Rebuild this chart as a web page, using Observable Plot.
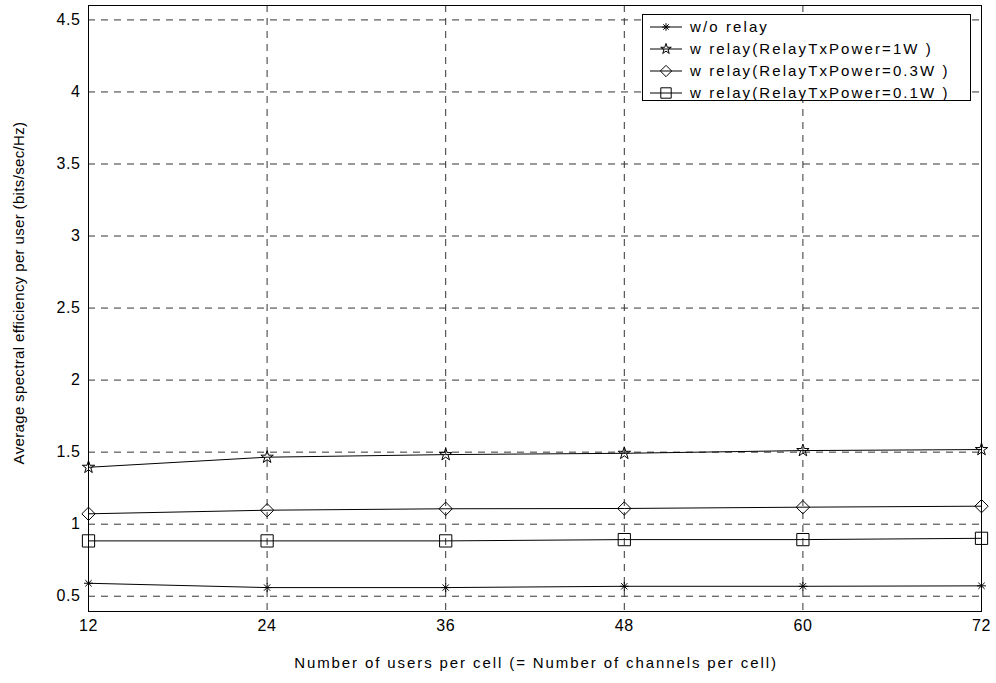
<!DOCTYPE html>
<html>
<head>
<meta charset="utf-8">
<script src="https://cdn.jsdelivr.net/npm/d3@7"></script>
<script src="https://cdn.jsdelivr.net/npm/@observablehq/plot@0.6"></script>
<style>
  html, body { margin: 0; padding: 0; background: white; }
  #chart { position: relative; width: 996px; height: 683px; }
</style>
</head>
<body>
<div id="chart"></div>
<script>
// ---- data ----
const usersPerCell = [12, 24, 36, 48, 60, 72];
const woRelay   = [0.590, 0.560, 0.560, 0.569, 0.569, 0.572];
const relay1W   = [1.395, 1.465, 1.483, 1.492, 1.511, 1.518];
const relay03W  = [1.072, 1.097, 1.107, 1.109, 1.118, 1.125];
const relay01W  = [0.884, 0.884, 0.884, 0.893, 0.893, 0.902];
const seriesNames = [
  "w/o relay",
  "w relay(RelayTxPower=1W )",
  "w relay(RelayTxPower=0.3W )",
  "w relay(RelayTxPower=0.1W )"
];
const yTicks = [0.5, 1, 1.5, 2, 2.5, 3, 3.5, 4, 4.5];
const xLabel = "Number of users per cell (= Number of channels per cell)";
const yLabel = "Average spectral efficiency per user (bits/sec/Hz)";

// MATLAB-like asterisk (plus + times)
const matlabAsterisk = {
  draw(ctx, size) {
    const r = Math.sqrt(size) * 0.6;
    const d = r * 0.7071;
    ctx.moveTo(-r, 0); ctx.lineTo(r, 0);
    ctx.moveTo(0, -r); ctx.lineTo(0, r);
    ctx.moveTo(-d, -d); ctx.lineTo(d, d);
    ctx.moveTo(-d, d); ctx.lineTo(d, -d);
  }
};
const symbols = [matlabAsterisk, "star", "diamond2", "square"];
const radii = [4.2, 3.9, 6.0, 6.9];
const allSeries = [woRelay, relay1W, relay03W, relay01W];

const rows = [];
allSeries.forEach((vals, i) => vals.forEach((v, j) => rows.push({series: seriesNames[i], idx: i, x: usersPerCell[j], y: v})));

const font = "'Liberation Sans', Arial, Helvetica, sans-serif";

const plot = Plot.plot({
  width: 996,
  height: 683,
  marginLeft: 88,
  marginRight: 15,
  marginTop: 5,
  marginBottom: 72,
  style: {fontFamily: font, fontSize: "16px", background: "white", color: "black", overflow: "visible"},
  x: {domain: [12, 72], label: null},
  y: {domain: [0.394, 4.6], label: null},
  marks: [
    Plot.gridX(usersPerCell, {stroke: "#333", strokeOpacity: 1, strokeWidth: 1, strokeDasharray: "7,6"}),
    Plot.gridY(yTicks, {stroke: "#333", strokeOpacity: 1, strokeWidth: 1, strokeDasharray: "7,6"}),
    Plot.frame({stroke: "black", strokeWidth: 1}),
    Plot.axisX(usersPerCell, {tickSize: 0, tickPadding: 8, tickFormat: d => String(d), label: null, fontSize: 16}),
    Plot.axisY(yTicks, {tickSize: 0, tickPadding: 8, tickFormat: d => String(d), label: null, fontSize: 16}),
    Plot.line(rows, {x: "x", y: "y", z: "series", stroke: "black", strokeWidth: 1}),
    ...allSeries.map((_, i) => Plot.dot(rows.filter(r => r.idx === i), {
      x: "x", y: "y", symbol: () => symbols[i], r: radii[i], stroke: "black", fill: "none", strokeWidth: 1
    }))
  ]
});

document.getElementById("chart").appendChild(plot);

const svg = d3.select(plot);
svg.selectAll("text").style("letter-spacing", "0.6px");

// axis titles
svg.append("text")
  .attr("x", 536).attr("y", 668)
  .attr("text-anchor", "middle")
  .style("font-family", font).style("font-size", "15px").style("letter-spacing", "1.9px")
  .attr("fill", "black")
  .text(xLabel);
svg.append("text")
  .attr("transform", "translate(24,293) rotate(-90)")
  .attr("text-anchor", "middle")
  .style("font-family", font).style("font-size", "15px").style("letter-spacing", "0.35px")
  .attr("fill", "black")
  .text(yLabel);

// legend
const lg = svg.append("g");
lg.append("rect").attr("x", 642.5).attr("y", 14.5).attr("width", 328).attr("height", 86)
  .attr("fill", "white").attr("stroke", "black");
seriesNames.forEach((name, i) => {
  const yy = 27 + i * 22;
  lg.append("line").attr("x1", 650).attr("x2", 682).attr("y1", yy).attr("y2", yy).attr("stroke", "black");
  const sym = typeof symbols[i] === "string"
    ? {star: d3.symbolStar, diamond2: d3.symbolDiamond2, square: d3.symbolSquare}[symbols[i]]
    : symbols[i];
  const rr = radii[i] * 0.85;
  lg.append("path").attr("transform", `translate(666,${yy})`)
    .attr("d", d3.symbol(sym, Math.PI * rr * rr)())
    .attr("fill", "none").attr("stroke", "black");
  lg.append("text").attr("x", 690).attr("y", yy).attr("dy", "0.36em")
    .attr("text-anchor", "start")
    .style("font-family", font).style("font-size", "15px").style("letter-spacing", "2.1px")
    .attr("fill", "black").text(name);
});
</script>
</body>
</html>
